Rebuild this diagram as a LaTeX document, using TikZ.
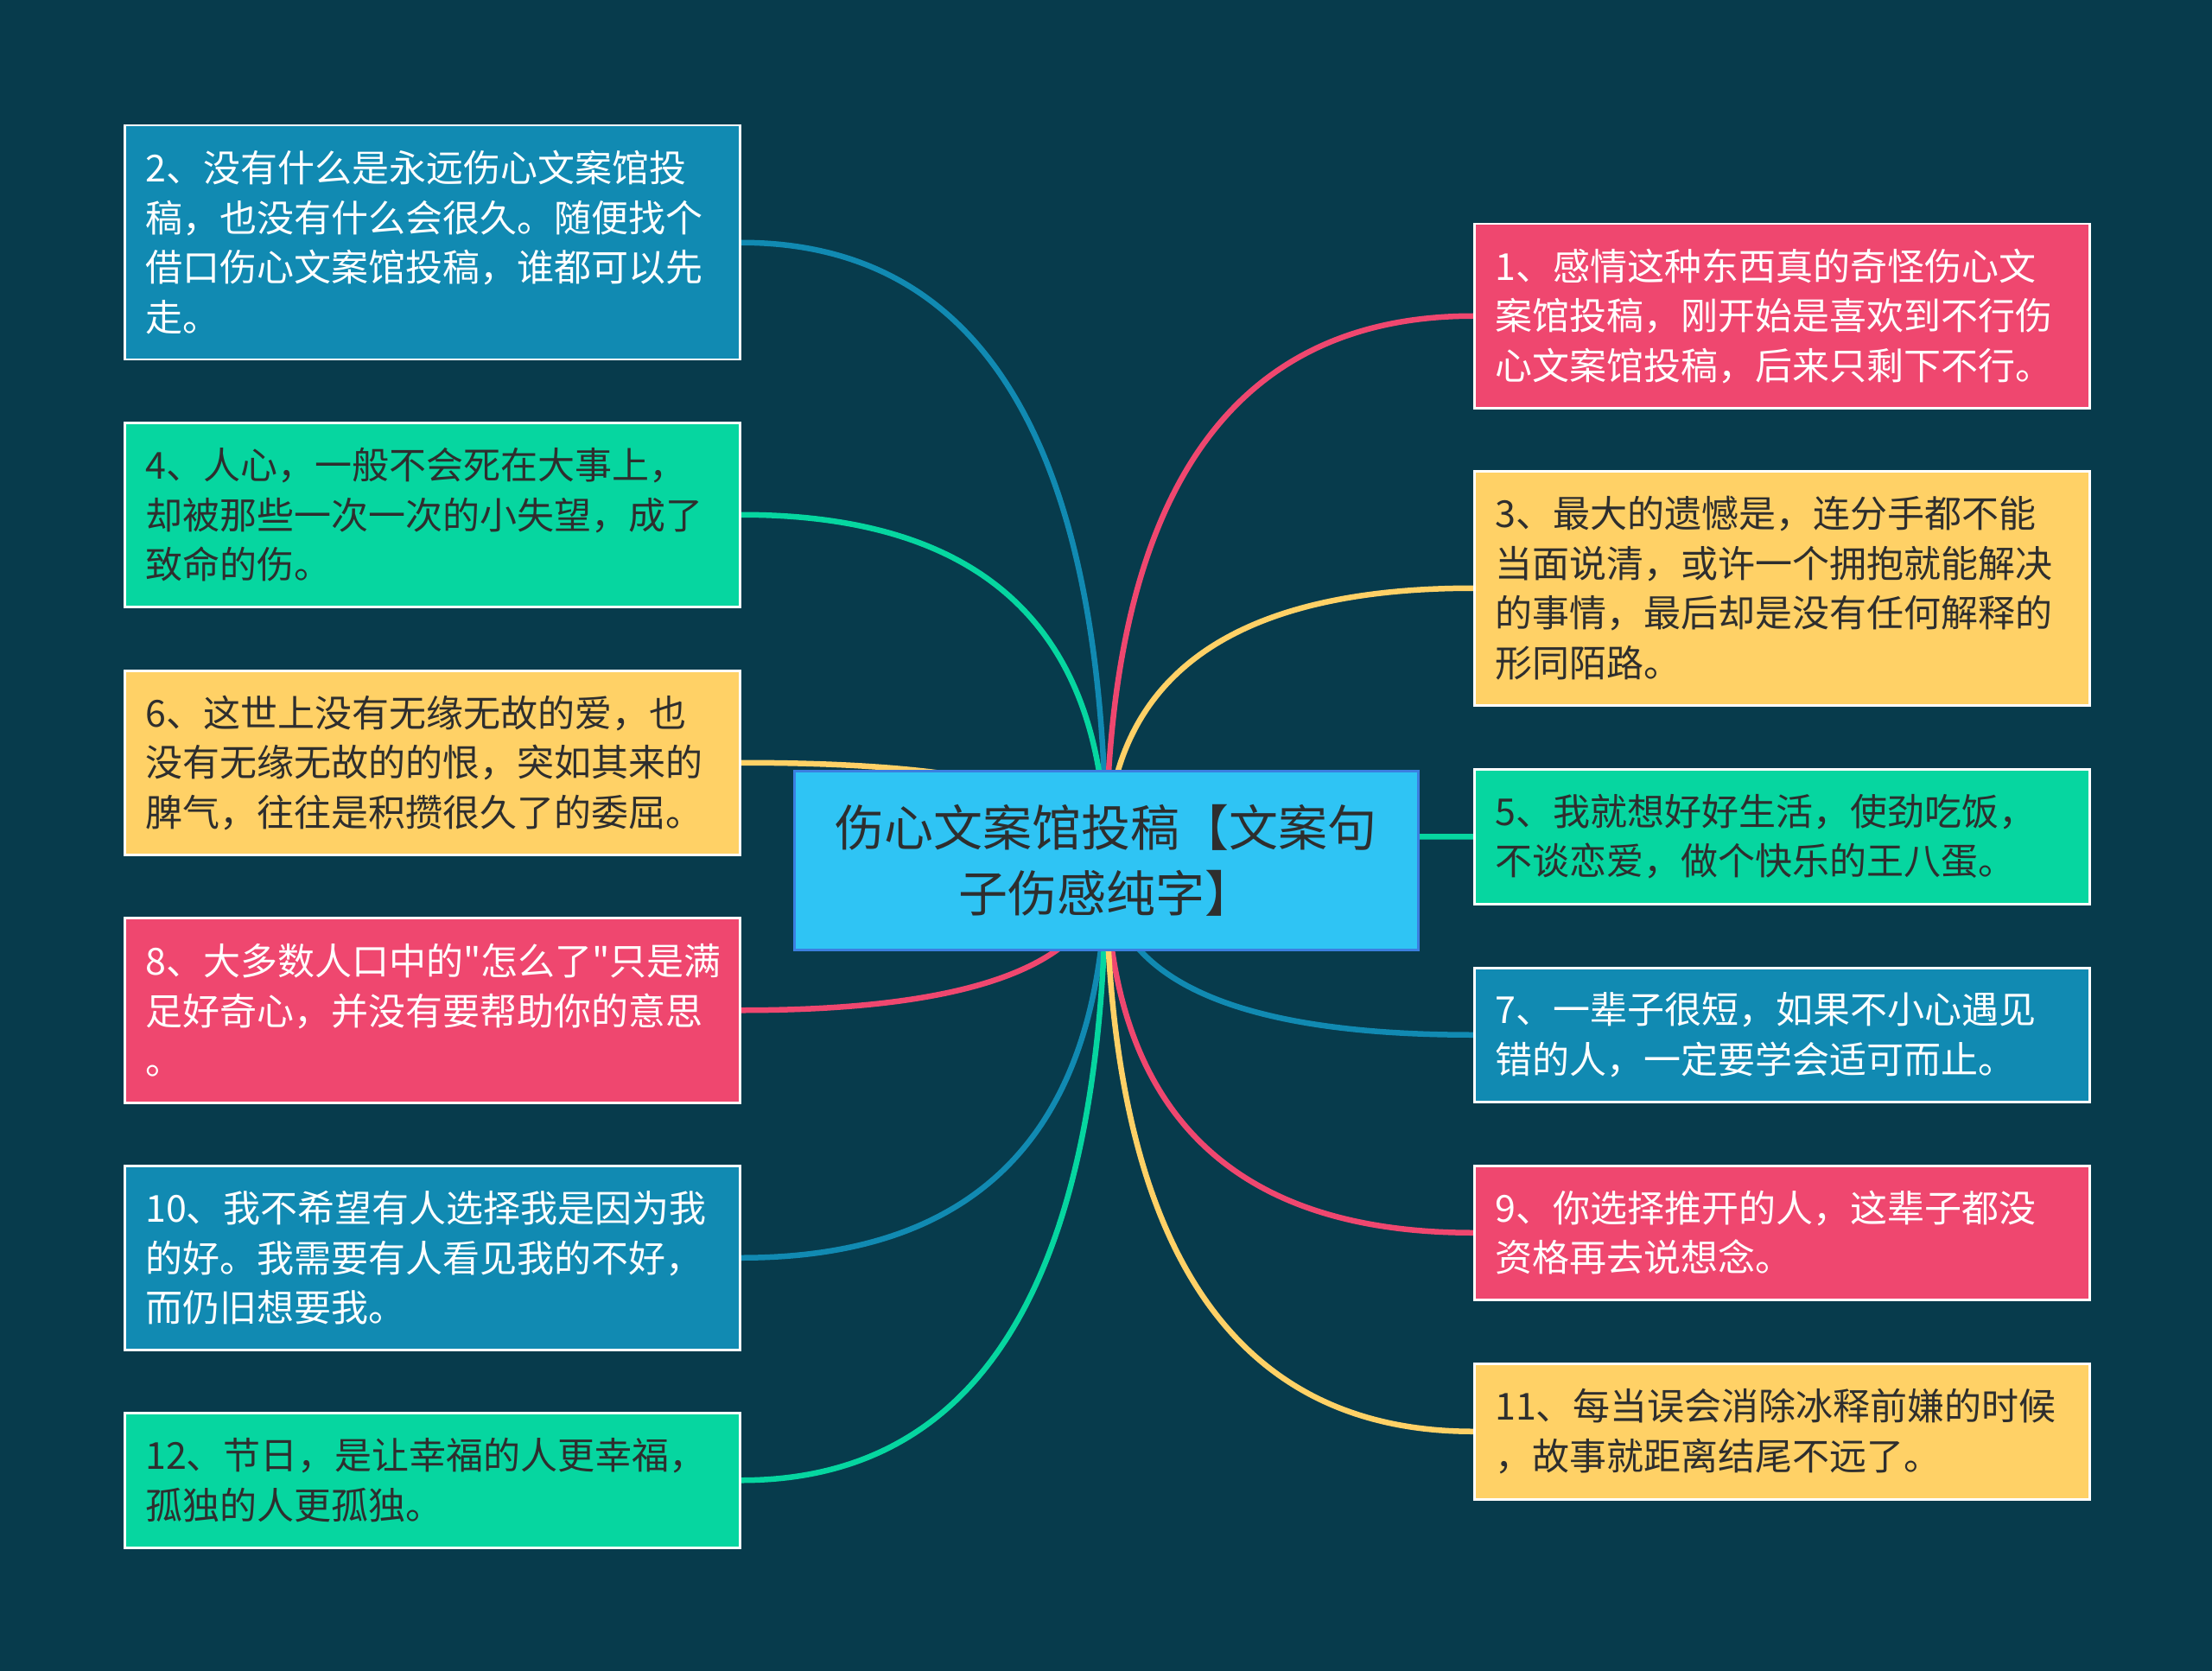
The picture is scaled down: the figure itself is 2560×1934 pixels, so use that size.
\documentclass[tikz,border=0pt]{standalone}
\usepackage{fontspec}
\newfontfamily\cjk{Noto Sans CJK SC}
\usetikzlibrary{calc,backgrounds}
\definecolor{bg}{HTML}{073B4C}
\definecolor{cblue}{HTML}{118AB2}
\definecolor{cgreen}{HTML}{06D6A0}
\definecolor{cyellow}{HTML}{FFD166}
\definecolor{cpink}{HTML}{EF476F}
\definecolor{croot}{HTML}{2FC4F4}
\definecolor{crootb}{HTML}{3B7FE0}
\definecolor{dtext}{HTML}{2E2E2E}
\tikzset{
  leaf/.style={draw=white, line width=2.5pt, anchor=north west, text width=664pt,
    inner xsep=24pt, inner ysep=0pt, align=left,
    font=\cjk\fontsize{43pt}{57.5pt}\selectfont},
  bluebox/.style={leaf, fill=cblue, text=white},
  pinkbox/.style={leaf, fill=cpink, text=white},
  greenbox/.style={leaf, fill=cgreen, text=dtext},
  yellowbox/.style={leaf, fill=cyellow, text=dtext},
  rootbox/.style={draw=crootb, line width=3pt, fill=croot, text=dtext,
    minimum width=722pt, minimum height=207pt, inner sep=0pt, align=center,
    font=\cjk\fontsize{57pt}{76pt}\selectfont},
  link/.style={line width=6.5pt}
}
\newcommand\linkto[2]{%
  \path (root.center|-#2) coordinate (q);
  \draw[link,#1] (root.center) .. controls ($(root.center)!0.6667!(q)$) and ($(#2)!0.6667!(q)$) .. (#2);}
\begin{document}
\begin{tikzpicture}[x=1pt,y=-1pt]
\useasboundingbox (0,0) rectangle (2560,1934);

% root
\node[rootbox] (root) at (1280,995.5) {伤心文案馆投稿【文案句\\子伤感纯字】};

% left boxes
\node[bluebox, minimum height=271pt] (b2) at (143,144) {2、没有什么是永远伤心文案馆投\\稿，也没有什么会很久。随便找个\\借口伤心文案馆投稿，谁都可以先\\走。};
\node[greenbox, minimum height=213pt] (b4) at (143,488) {4、人心，一般不会死在大事上，\\却被那些一次一次的小失望，成了\\致命的伤。};
\node[yellowbox, minimum height=213pt] (b6) at (143,775) {6、这世上没有无缘无故的爱，也\\没有无缘无故的的恨，突如其来的\\脾气，往往是积攒很久了的委屈。};
\node[pinkbox, minimum height=214pt] (b8) at (143,1061) {8、大多数人口中的"怎么了"只是满\\足好奇心，并没有要帮助你的意思\\。};
\node[bluebox, minimum height=213pt] (b10) at (143,1348) {10、我不希望有人选择我是因为我\\的好。我需要有人看见我的不好，\\而仍旧想要我。};
\node[greenbox, minimum height=156pt] (b12) at (143,1634) {12、节日，是让幸福的人更幸福，\\孤独的人更孤独。};

% right boxes
\node[pinkbox, minimum height=213pt] (b1) at (1705,258) {1、感情这种东西真的奇怪伤心文\\案馆投稿，刚开始是喜欢到不行伤\\心文案馆投稿，后来只剩下不行。};
\node[yellowbox, minimum height=271pt] (b3) at (1705,544) {3、最大的遗憾是，连分手都不能\\当面说清，或许一个拥抱就能解决\\的事情，最后却是没有任何解释的\\形同陌路。};
\node[greenbox, minimum height=156pt] (b5) at (1705,889) {5、我就想好好生活，使劲吃饭，\\不谈恋爱，做个快乐的王八蛋。};
\node[bluebox, minimum height=155pt] (b7) at (1705,1119) {7、一辈子很短，如果不小心遇见\\错的人，一定要学会适可而止。};
\node[pinkbox, minimum height=155pt] (b9) at (1705,1348) {9、你选择推开的人，这辈子都没\\资格再去说想念。};
\node[yellowbox, minimum height=157pt] (b11) at (1705,1577) {11、每当误会消除冰释前嫌的时候\\，故事就距离结尾不远了。};

\begin{scope}[on background layer]
  \fill[bg] (0,0) rectangle (2560,1934);
  \linkto{cblue}{b2.east}
  \linkto{cgreen}{b4.east}
  \linkto{cyellow}{b6.east}
  \linkto{cpink}{b8.east}
  \linkto{cblue}{b10.east}
  \linkto{cgreen}{b12.east}
  \linkto{cpink}{b1.west}
  \linkto{cyellow}{b3.west}
  \linkto{cgreen}{b5.west}
  \linkto{cblue}{b7.west}
  \linkto{cpink}{b9.west}
  \linkto{cyellow}{b11.west}
\end{scope}
\end{tikzpicture}
\end{document}
